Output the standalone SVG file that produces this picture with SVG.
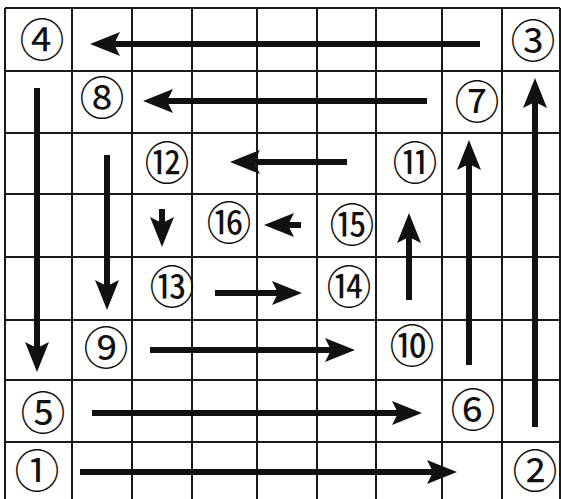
<svg xmlns="http://www.w3.org/2000/svg" width="561" height="499" viewBox="0 0 561 499">
<style>
.grid line{stroke:#1a1a1a;stroke-width:2}
.lbl{font-family:"Liberation Serif","Noto Sans CJK JP",serif;font-size:45px;fill:#111;text-anchor:middle;dominant-baseline:central}
.arr{stroke:#111;stroke-width:6;fill:none;marker-end:url(#ah)}
</style>
<defs>
<marker id="ah" markerUnits="userSpaceOnUse" markerWidth="30" markerHeight="24" viewBox="0 0 30 24" refX="10" refY="12" orient="auto">
<path d="M30,12 L0,0 L6,12 L0,24 Z" fill="#111"/>
</marker>
</defs>
<rect width="561" height="499" fill="#fff"/>
<g class="grid" id="grid">
<line x1="5" y1="8" x2="5" y2="499"/>
<line x1="72" y1="8" x2="72" y2="499"/>
<line x1="132" y1="8" x2="132" y2="499"/>
<line x1="192" y1="8" x2="192" y2="499"/>
<line x1="257" y1="8" x2="257" y2="499"/>
<line x1="317" y1="8" x2="317" y2="499"/>
<line x1="376" y1="8" x2="376" y2="499"/>
<line x1="442" y1="8" x2="442" y2="499"/>
<line x1="502" y1="8" x2="502" y2="499"/>
<line x1="560" y1="8" x2="560" y2="499"/>
<line x1="5" y1="8" x2="560" y2="8"/>
<line x1="5" y1="71" x2="560" y2="71"/>
<line x1="5" y1="133" x2="560" y2="133"/>
<line x1="5" y1="194" x2="560" y2="194"/>
<line x1="5" y1="257" x2="560" y2="257"/>
<line x1="5" y1="320" x2="560" y2="320"/>
<line x1="5" y1="380" x2="560" y2="380"/>
<line x1="5" y1="442" x2="560" y2="442"/>
</g>
<g id="connectors">
<line class="arr" x1="480" y1="44" x2="110" y2="44"/>
<line class="arr" x1="427" y1="101" x2="163" y2="101"/>
<line class="arr" x1="535" y1="427" x2="535" y2="98"/>
<line class="arr" x1="37" y1="88" x2="37" y2="352"/>
<line class="arr" x1="107" y1="155" x2="107" y2="290"/>
<line class="arr" x1="150" y1="350" x2="335" y2="350"/>
<line class="arr" x1="92" y1="413" x2="402" y2="413"/>
<line class="arr" x1="80" y1="472" x2="437" y2="472"/>
<line class="arr" x1="469" y1="365" x2="469" y2="160"/>
<line class="arr" x1="409" y1="300" x2="409" y2="233"/>
<line class="arr" x1="347" y1="162" x2="250" y2="162"/>
<line class="arr" x1="162" y1="209" x2="162" y2="227"/>
<line class="arr" x1="215" y1="293" x2="282" y2="293"/>
<line class="arr" x1="301" y1="225" x2="284" y2="225"/>
</g>
<g id="n1"><text class="lbl" x="37" y="473">①</text></g>
<g id="n2"><text class="lbl" x="535" y="473">②</text></g>
<g id="n3"><text class="lbl" x="533" y="43">③</text></g>
<g id="n4"><text class="lbl" x="42" y="42">④</text></g>
<g id="n5"><text class="lbl" x="43" y="415">⑤</text></g>
<g id="n6"><text class="lbl" x="473" y="412">⑥</text></g>
<g id="n7"><text class="lbl" x="477" y="104">⑦</text></g>
<g id="n8"><text class="lbl" x="102" y="100">⑧</text></g>
<g id="n9"><text class="lbl" x="106" y="350">⑨</text></g>
<g id="n10"><text class="lbl" x="412" y="348">⑩</text></g>
<g id="n11"><text class="lbl" x="415" y="165">⑪</text></g>
<g id="n12"><text class="lbl" x="167" y="165">⑫</text></g>
<g id="n13"><text class="lbl" x="172" y="289">⑬</text></g>
<g id="n14"><text class="lbl" x="349" y="289">⑭</text></g>
<g id="n15"><text class="lbl" x="352" y="227">⑮</text></g>
<g id="n16"><text class="lbl" x="229" y="225">⑯</text></g>
</svg>
